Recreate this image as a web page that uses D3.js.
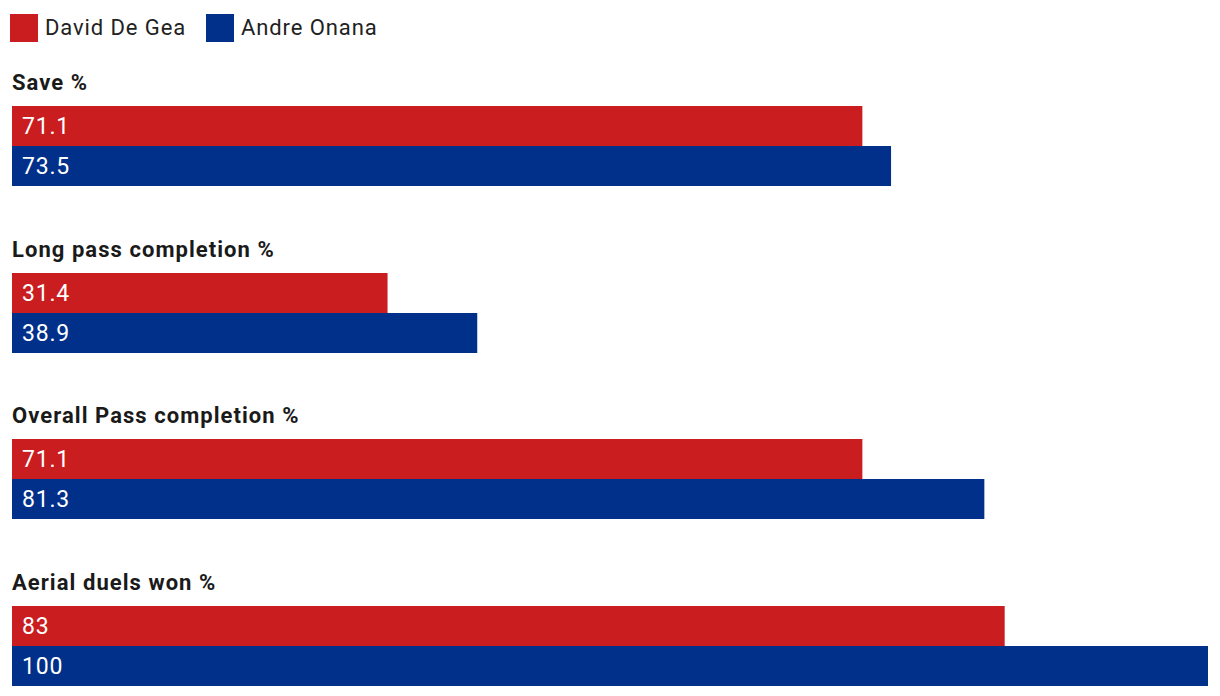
<!DOCTYPE html>
<html><head><meta charset="utf-8">
<script src="https://cdn.jsdelivr.net/npm/d3@7"></script>
<style>body{margin:0;background:#fff;font-family:Roboto,sans-serif;}</style>
</head><body><svg id="c" width="1220" height="696"></svg>
<script>
const categories = ["Save %", "Long pass completion %", "Overall Pass completion %", "Aerial duels won %"];
const seriesNames = ["David De Gea", "Andre Onana"];
const deGea = [71.1, 31.4, 71.1, 83];
const onana = [73.5, 38.9, 81.3, 100];
const colors = ["#c91d1f", "#00308a"];

const svg = d3.select("#c");
const x = d3.scaleLinear().domain([0, 100]).range([12, 1208]);
const yGroup = d3.scalePoint().domain(categories).range([106, 606]);
const barH = 40;

// legend
const leg = svg.append("g");
const legX = [10, 206];
seriesNames.forEach((s, i) => {
  leg.append("rect").attr("x", legX[i]).attr("y", 14).attr("width", 28).attr("height", 28).attr("fill", colors[i]);
  leg.append("text").attr("x", legX[i] + 35).attr("y", 34.5).attr("font-size", 22)
    .attr("letter-spacing", 0.9).attr("fill", "#222").text(s);
});

const series = [deGea, onana];
categories.forEach((c, ci) => {
  const y0 = Math.round(yGroup(c));
  svg.append("text").attr("x", 12).attr("y", y0 - 16.5).attr("font-size", 22).attr("font-weight", 700)
    .attr("letter-spacing", 1.05).attr("fill", "#1a1a1a").text(c);
  series.forEach((vals, si) => {
    const v = vals[ci];
    svg.append("rect").attr("x", x(0)).attr("y", y0 + si * barH).attr("width", x(v) - x(0)).attr("height", barH).attr("fill", colors[si]);
    svg.append("text").attr("x", x(0) + 10).attr("y", y0 + si * barH + 28).attr("font-size", 23)
      .attr("letter-spacing", 0.8).attr("fill", "#fff").text(v);
  });
});
</script></body></html>
